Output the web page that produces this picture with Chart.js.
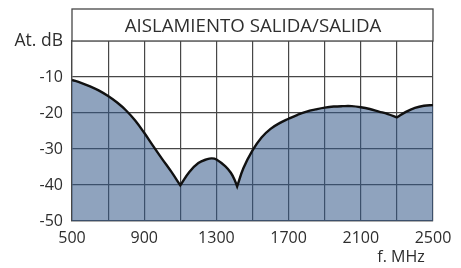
<!DOCTYPE html>
<html>
<head>
<meta charset="utf-8">
<script src="https://cdn.jsdelivr.net/npm/chart.js@4.4.1/dist/chart.umd.min.js"></script>
<style>
html,body{margin:0;padding:0;background:#fff;}
#wrap{width:461px;height:268px;}
</style>
</head>
<body>
<div id="wrap"><canvas id="c" width="461" height="268"></canvas></div>
<script>
const chartTitle = "AISLAMIENTO SALIDA/SALIDA";
const yAxisLabel = "At. dB";
const xAxisLabel = "f. MHz";
const freqMHz = [500,550,600,650,700,750,800,850,900,950,1000,1050,1100,1150,1200,1250,1275,1300,1350,1380,1400,1415,1450,1500,1550,1600,1650,1700,1750,1800,1850,1900,1950,2000,2050,2100,2150,2200,2250,2300,2350,2400,2450,2500];
const isolationDb = [-10.8,-11.6,-12.6,-13.8,-15.3,-17.1,-19.3,-22.1,-25.5,-29.2,-32.8,-36.3,-40.1,-36.4,-33.9,-32.8,-32.6,-32.9,-34.8,-36.6,-38.5,-40.4,-35.3,-30.4,-26.8,-24.4,-22.8,-21.6,-20.5,-19.6,-19.0,-18.5,-18.2,-18.1,-18.1,-18.4,-18.9,-19.6,-20.3,-21.2,-19.7,-18.6,-18.0,-17.8];
const cuspFreqs = [1100,1415,2300];
const xTickLabels = [500,900,1300,1700,2100,2500];
const yTicks = [-50,-40,-30,-20,-10,0];

const FONT = "'Open Sans', sans-serif";
const GRID = '#474747';
const TEXT = '#2e2e2e';

// build point table; cusp points are doubled so the spline keeps a sharp corner there
const points = [];
freqMHz.forEach((f, i) => {
  points.push({x: f, y: isolationDb[i]});
  if (cuspFreqs.includes(f)) points.push({x: f, y: isolationDb[i]});
});

const decor = {
  id: 'decor',
  afterDraw(chart) {
    const ctx = chart.ctx, a = chart.chartArea;
    ctx.save();
    const top = a.top - 32;
    ctx.fillStyle = '#fff';
    ctx.fillRect(a.left, top, a.right - a.left, 32);
    ctx.strokeStyle = GRID;
    ctx.lineWidth = 1.3;
    ctx.strokeRect(a.left, top, a.right - a.left, 32);
    ctx.fillStyle = TEXT;
    ctx.font = "18.7px " + FONT;
    ctx.textAlign = 'center';
    ctx.textBaseline = 'middle';
    ctx.fillText(chartTitle, (a.left + a.right) / 2 + 0.5, top + 17.5);
    ctx.font = "16px " + FONT;
    ctx.fillText(xAxisLabel, a.right - 32, a.bottom + 36);
    ctx.restore();
  }
};

new Chart(document.getElementById('c'), {
  type: 'line',
  data: {
    datasets: [{
      data: points,
      borderColor: '#111',
      borderWidth: 2.4,
      backgroundColor: 'rgba(51,88,137,0.55)',
      fill: 'start',
      pointRadius: 0,
      tension: 0.4
    }]
  },
  plugins: [decor],
  options: {
    responsive: false,
    animation: false,
    layout: {padding: {top: 41, right: 28, left: 0, bottom: 0}},
    plugins: {legend: {display: false}, tooltip: {enabled: false}},
    scales: {
      x: {
        type: 'linear', min: 500, max: 2500,
        afterBuildTicks(s) { s.ticks = []; for (let v = 500; v <= 2500; v += 200) s.ticks.push({value: v}); },
        afterFit(s) { s.height = 47; },
        grid: {color: GRID, lineWidth: 1.2, drawTicks: false},
        border: {color: GRID, width: 1.3},
        ticks: {
          autoSkip: false, maxRotation: 0, padding: 8, color: TEXT,
          font: {family: FONT, size: 16},
          callback: v => xTickLabels.includes(v) ? String(v) : ''
        }
      },
      y: {
        type: 'linear', min: -50, max: 0,
        afterBuildTicks(s) { s.ticks = yTicks.map(v => ({value: v})); },
        afterFit(s) { s.width = 72; },
        grid: {color: GRID, lineWidth: 1.2, drawTicks: false},
        border: {color: GRID, width: 1.3},
        ticks: {
          padding: 9, color: TEXT,
          font: c => ({family: FONT, size: (c.tick && c.tick.value === 0) ? 17.5 : 16}),
          callback: v => v === 0 ? yAxisLabel : String(v)
        }
      }
    }
  }
});
</script>
</body>
</html>
